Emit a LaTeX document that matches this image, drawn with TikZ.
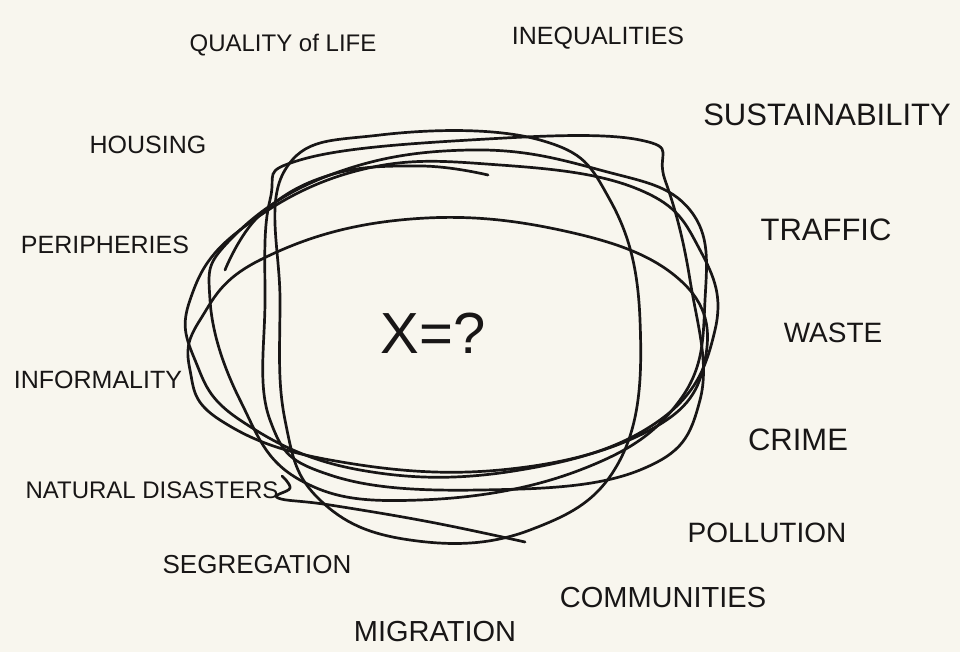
\documentclass[tikz,border=0pt]{standalone}
\usepackage{fontspec}
\setmainfont{Liberation Sans}
\begin{document}
\begin{tikzpicture}[x=1pt,y=-1pt,
  lbl/.style={text=ink,inner sep=0pt,anchor=center},
  scrib/.style={draw=ink,line width=2.7pt,line join=round,line cap=round}]
\definecolor{ink}{RGB}{24,22,22}
\definecolor{paper}{RGB}{248,246,238}
\fill[paper] (0,0) rectangle (960,652);
\useasboundingbox (0,0) rectangle (960,652);

% scribble loops
\draw[scrib] plot[smooth cycle,tension=0.7] coordinates {(300,160) (470,140) (640,140) (665,180) (690,280) (700,400) (640,470) (480,490) (330,475) (270,420) (265,300) (270,200)};
\draw[scrib] plot[smooth cycle,tension=0.7] coordinates {(190,300) (240,230) (360,170) (500,165) (640,190) (700,250) (715,330) (660,420) (520,470) (360,470) (240,420) (195,360)};
\draw[scrib] plot[smooth cycle,tension=0.7] coordinates {(230,240) (330,175) (470,150) (600,170) (690,210) (705,300) (680,400) (580,470) (420,500) (300,480) (240,400) (210,300)};
\draw[scrib] plot[smooth cycle,tension=0.7] coordinates {(285,170) (380,135) (540,140) (610,200) (640,320) (620,460) (530,530) (410,540) (320,500) (285,420) (280,300)};
\draw[scrib] plot[smooth cycle,tension=0.7] coordinates {(200,320) (260,260) (400,220) (560,230) (680,280) (705,360) (650,430) (500,470) (330,460) (220,420) (190,370)};
\draw[scrib] plot[smooth,tension=0.7] coordinates {(488,175) (420,166) (330,175) (260,215) (225,270)};
\draw[scrib] plot[smooth,tension=0.7] coordinates {(282,476) (290,488) (278,498) (330,505) (430,522) (525,542)};

% centre
\node[lbl,font=\fontsize{58}{60}\selectfont] (x) at (433,333) {X=?};

% labels
\node[lbl,font=\fontsize{24}{28}\selectfont] (qol) at (283,45) {QUALITY of LIFE};
\node[lbl,font=\fontsize{25}{28}\selectfont] (ineq) at (598,38) {INEQUALITIES};
\node[lbl,font=\fontsize{25}{28}\selectfont] (hous) at (148,145) {HOUSING};
\node[lbl,font=\fontsize{31}{34}\selectfont] (sust) at (827,115) {SUSTAINABILITY};
\node[lbl,font=\fontsize{25}{28}\selectfont] (peri) at (105,245) {PERIPHERIES};
\node[lbl,font=\fontsize{31}{34}\selectfont] (traf) at (826,230) {TRAFFIC};
\node[lbl,font=\fontsize{28}{30}\selectfont] (wast) at (833,333) {WASTE};
\node[lbl,font=\fontsize{25}{28}\selectfont] (info) at (98,380) {INFORMALITY};
\node[lbl,font=\fontsize{31}{34}\selectfont] (crim) at (798,440) {CRIME};
\node[lbl,font=\fontsize{24}{28}\selectfont] (nat) at (152,490) {NATURAL DISASTERS};
\node[lbl,font=\fontsize{28}{30}\selectfont] (poll) at (767,533) {POLLUTION};
\node[lbl,font=\fontsize{26}{28}\selectfont] (segr) at (257,565) {SEGREGATION};
\node[lbl,font=\fontsize{29}{32}\selectfont] (comm) at (663,598) {COMMUNITIES};
\node[lbl,font=\fontsize{29}{32}\selectfont] (migr) at (435,632) {MIGRATION};
\end{tikzpicture}
\end{document}
